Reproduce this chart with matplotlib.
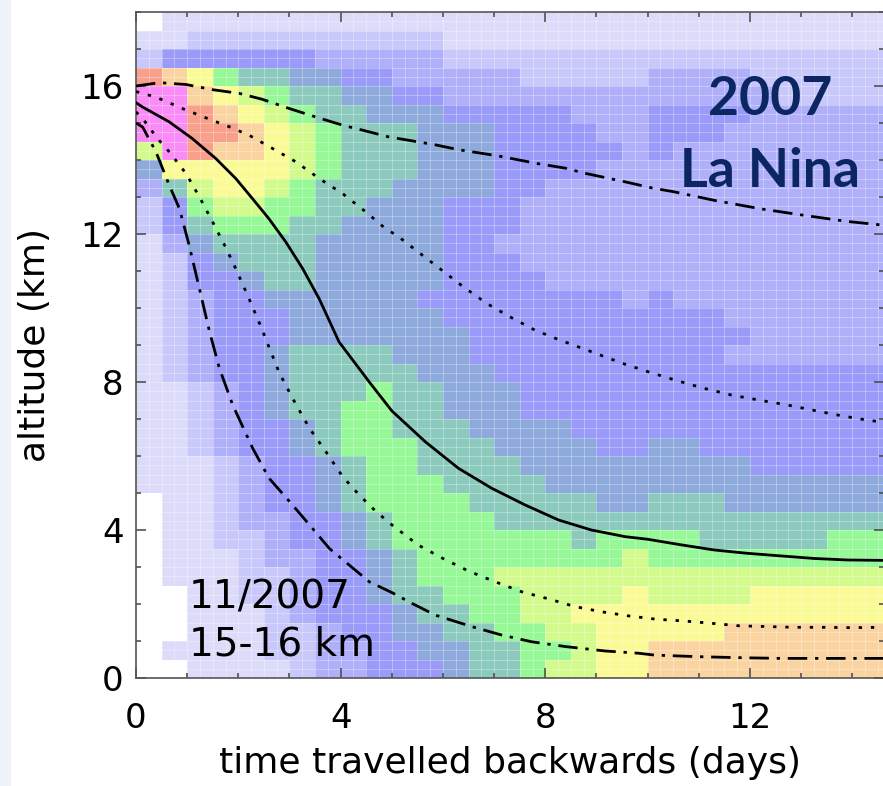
import numpy as np
import matplotlib
matplotlib.use("Agg")
import matplotlib.pyplot as plt
from matplotlib.colors import ListedColormap, BoundaryNorm
from matplotlib.patches import Rectangle

# ---- trajectory density, level code per 0.5 day x 0.5 km bin ----
# each row: (0-5 days, 5-10 days, 10-15 days); rows from 17.5-18 km down to 0-0.5 km
density_rows = [
    ("0111111111", "1111111111", "1111111111"),
    ("1122222222", "2211111111", "1111111111"),
    ("2444444333", "3322222222", "2222222222"),
    ("BA97665544", "3333322222", "3333222222"),
    ("CCA9876655", "4433333333", "3333322222"),
    ("CCBA987665", "5544444333", "4444333333"),
    ("CCBBA98766", "6555444433", "4443333333"),
    ("8CBAA98766", "6555444443", "4333333333"),
    ("5999998766", "6555444433", "3333333333"),
    ("3689987666", "5555443333", "3333333333"),
    ("2478877665", "5544433333", "3333333333"),
    ("2467776655", "5544433333", "3333333333"),
    ("1356666555", "5544333333", "3333333333"),
    ("1245666555", "5544433333", "3333333333"),
    ("1244566555", "5544443333", "3333333333"),
    ("1234455555", "5444444443", "4333333333"),
    ("1234445555", "5544444444", "4443333333"),
    ("1234445555", "5554444444", "4444333333"),
    ("1234456666", "5554444444", "4443333333"),
    ("1234456666", "6555444444", "4444444444"),
    ("1123456667", "6655544444", "4444444444"),
    ("1123456677", "6655544444", "4444444444"),
    ("1123445677", "6665555444", "4444444444"),
    ("1123445677", "7666555544", "5544444444"),
    ("1112344567", "7666655555", "5555444444"),
    ("1112344567", "7766665555", "5555555555"),
    ("0112344567", "7776666655", "6665555555"),
    ("0112334456", "7777666666", "6666666666"),
    ("0112234456", "7777777677", "7766666777"),
    ("0111233445", "6777777778", "7777777777"),
    ("0111223445", "6777888888", "8888888888"),
    ("0011223445", "6677788889", "8888999999"),
    ("0011123444", "5667788999", "9999999999"),
    ("0011122344", "5566778899", "999AAAAAAA"),
    ("0111122334", "4556677899", "AAAAAAAAAA"),
    ("0011112334", "4456678899", "AAAAAAAAAA"),
]

level_colors = [
    "#ffffff",  # 0
    "#dcdcfa",  # 1
    "#c8c8fa",  # 2
    "#b0b0fa",  # 3
    "#9a9af8",  # 4
    "#8eaadc",  # 5
    "#8ccabe",  # 6
    "#96f896",  # 7
    "#d2fa8c",  # 8
    "#fafa96",  # 9
    "#fad4a0",  # A
    "#f8a08c",  # B
    "#fa8cf8",  # C
]

# ---- altitude percentiles of the back trajectories (days, km) ----
med_t = [0, 0.13, 0.65, 1.1, 1.56, 1.95, 2.28, 2.6, 2.93, 3.26, 3.58, 3.97,
         4.56, 5.0, 5.65, 6.3, 6.95, 7.6, 8.26, 8.9, 9.56, 10.0, 10.65, 11.3,
         11.95, 12.6, 13.26, 13.9, 14.6]
med_h = [15.55, 15.43, 15.03, 14.58, 14.04, 13.5, 12.95, 12.41, 11.78, 11.06,
         10.25, 9.08, 8.0, 7.22, 6.39, 5.67, 5.13, 4.68, 4.27, 4.0, 3.82, 3.75,
         3.6, 3.46, 3.37, 3.3, 3.23, 3.19, 3.18]

q75_t = [0, 0.39, 0.91, 1.4, 1.82, 2.21, 2.67, 3.125, 3.58, 4.04, 4.49, 4.88,
         5.1, 5.52, 5.98, 6.4, 6.86, 7.31, 7.8, 8.29, 8.55, 9.07, 9.56, 10.07,
         10.59, 11.1, 11.63, 12.18, 12.73, 13.26, 13.78, 14.33, 14.6]
q75_h = [15.85, 15.7, 15.39, 15.12, 14.9, 14.67, 14.31, 13.95, 13.5, 13.09,
         12.6, 12.14, 11.96, 11.51, 11.02, 10.57, 10.12, 9.76, 9.4, 9.13, 9.0,
         8.73, 8.48, 8.25, 8.03, 7.83, 7.65, 7.51, 7.38, 7.23, 7.09, 6.96, 6.92]

q25_t = [0, 0.13, 0.42, 0.65, 0.98, 1.24, 1.5, 1.76, 1.95, 2.21, 2.44, 2.54,
         2.8, 3.06, 3.39, 3.71, 4.04, 4.36, 4.69, 5.0, 5.52, 6.0, 6.5, 7.02,
         7.54, 8.06, 8.58, 9.1, 9.62, 10.16, 10.72, 11.24, 11.79, 12.34, 12.86,
         13.42, 13.97, 14.6]
q25_h = [15.3, 15.12, 14.58, 14.22, 13.63, 13.0, 12.32, 11.62, 11.06, 10.25,
         9.5, 9.15, 8.25, 7.56, 6.75, 6.12, 5.44, 4.95, 4.5, 4.14, 3.59, 3.23,
         2.89, 2.6, 2.33, 2.14, 1.93, 1.79, 1.68, 1.59, 1.54, 1.48, 1.41, 1.39,
         1.37, 1.37, 1.36, 1.37]

p95_t = [0, 0.46, 0.98, 1.5, 2.02, 2.47, 3.0, 3.52, 4.04, 4.56, 4.95, 5.26,
         5.85, 6.3, 7.08, 7.86, 8.39, 8.78, 9.56, 10.1, 10.52, 11.3, 12.21,
         13.13, 13.9, 14.6]
p95_h = [16.0, 16.09, 16.04, 15.9, 15.8, 15.64, 15.39, 15.16, 14.94, 14.76,
         14.62, 14.55, 14.41, 14.28, 14.11, 13.9, 13.78, 13.64, 13.41, 13.24,
         13.14, 12.91, 12.68, 12.49, 12.34, 12.24]

p05_t = [0, 0.13, 0.39, 0.65, 0.85, 1.04, 1.24, 1.43, 1.63, 1.89, 2.28, 2.6,
         3.0, 3.39, 3.78, 4.17, 4.56, 5.0, 5.39, 5.85, 6.56, 7.15, 7.73, 8.39,
         9.17, 9.82, 10.13, 10.91, 11.76, 12.6, 13.5, 14.6]
p05_h = [15.0, 14.89, 14.22, 13.32, 12.68, 11.69, 10.52, 9.4, 8.37, 7.38,
         6.21, 5.4, 4.77, 4.14, 3.5, 3.05, 2.6, 2.31, 2.02, 1.7, 1.39, 1.16,
         0.98, 0.85, 0.73, 0.67, 0.62, 0.58, 0.55, 0.53, 0.53, 0.53]

x_ticks = [0, 4, 8, 12]
y_ticks = [0, 4, 8, 12, 16]

# ---- figure ----
W, H = 883, 786
fig = plt.figure(figsize=(W / 100, H / 100), dpi=100)
fig.patches.append(Rectangle((0, 0), 11 / W, 1, transform=fig.transFigure,
                             facecolor="#eef2f9", edgecolor="none", zorder=-5))

ax = fig.add_axes([136 / W, (H - 678) / H, 748 / W, 666 / H])

codes = "0123456789ABC"
rows = ["".join(r) for r in density_rows]
assert all(len(r) == 30 for r in rows)
grid = np.array([[codes.index(c) for c in row] for row in rows[::-1]])
x_edges = np.arange(grid.shape[1] + 1) * 0.5
y_edges = np.arange(grid.shape[0] + 1) * 0.5

cmap = ListedColormap(level_colors)
norm = BoundaryNorm(np.arange(-0.5, len(level_colors) + 0.5), cmap.N)
ax.pcolormesh(x_edges, y_edges, grid, cmap=cmap, norm=norm, shading="flat",
              edgecolors="none", zorder=0)

# faint bin outlines at quarter-day / quarter-km spacing
fine_x = np.arange(0, 15.01, 0.25)
fine_y = np.arange(0, 18.01, 0.25)
ax.vlines(fine_x, 0, 18, colors="white", linewidth=0.7, alpha=0.3, zorder=1)
ax.hlines(fine_y, 0, 15, colors="white", linewidth=0.7, alpha=0.3, zorder=1)

lw = 2.0
dotted = (0, (1.2, 3.2))
dashdot = (0, (7.0, 2.8, 1.2, 2.8))
ax.plot(med_t, med_h, color="black", lw=lw, zorder=3)
ax.plot(q75_t, q75_h, color="black", lw=lw, linestyle=dotted, zorder=3)
ax.plot(q25_t, q25_h, color="black", lw=lw, linestyle=dotted, zorder=3)
ax.plot(p95_t, p95_h, color="black", lw=lw, linestyle=dashdot, zorder=3)
ax.plot(p05_t, p05_h, color="black", lw=lw, linestyle=dashdot, zorder=3)

ax.set_xlim(0, 14.62)
ax.set_ylim(0, 18)
ax.set_xticks(x_ticks)
ax.set_yticks(y_ticks)
ax.set_xticks(np.arange(0, 15, 1), minor=True)
ax.set_yticks(np.arange(0, 19, 1), minor=True)
ax.tick_params(which="both", direction="in", top=True, right=True,
               color="#444444", width=1.1)
ax.tick_params(which="major", length=7.5)
ax.tick_params(which="minor", length=3.8)
ax.tick_params(axis="y", which="major", pad=9, labelsize=24.5)
ax.tick_params(axis="x", which="major", pad=17, labelsize=24.5)
for s in ax.spines.values():
    s.set_color("#555555")
    s.set_linewidth(1.2)

ax.set_xlabel("time travelled backwards (days)", fontsize=26, labelpad=8)
ax.set_ylabel("altitude (km)", fontsize=26, labelpad=20)

ax.text(1.03, 1.89, "11/2007", fontsize=28, ha="left", va="baseline", zorder=4)
ax.text(1.03, 0.62, "15-16 km", fontsize=28, ha="left", va="baseline", zorder=4)
ax.text(12.4, 15.22, "2007", fontsize=38.5, family="Lato", weight="bold",
        color="#0b2660", ha="center", va="baseline", zorder=4)
ax.text(12.4, 13.27, "La Nina", fontsize=38.5, family="Lato", weight="bold",
        color="#0b2660", ha="center", va="baseline", zorder=4)

fig.savefig("out.png", dpi=100)
